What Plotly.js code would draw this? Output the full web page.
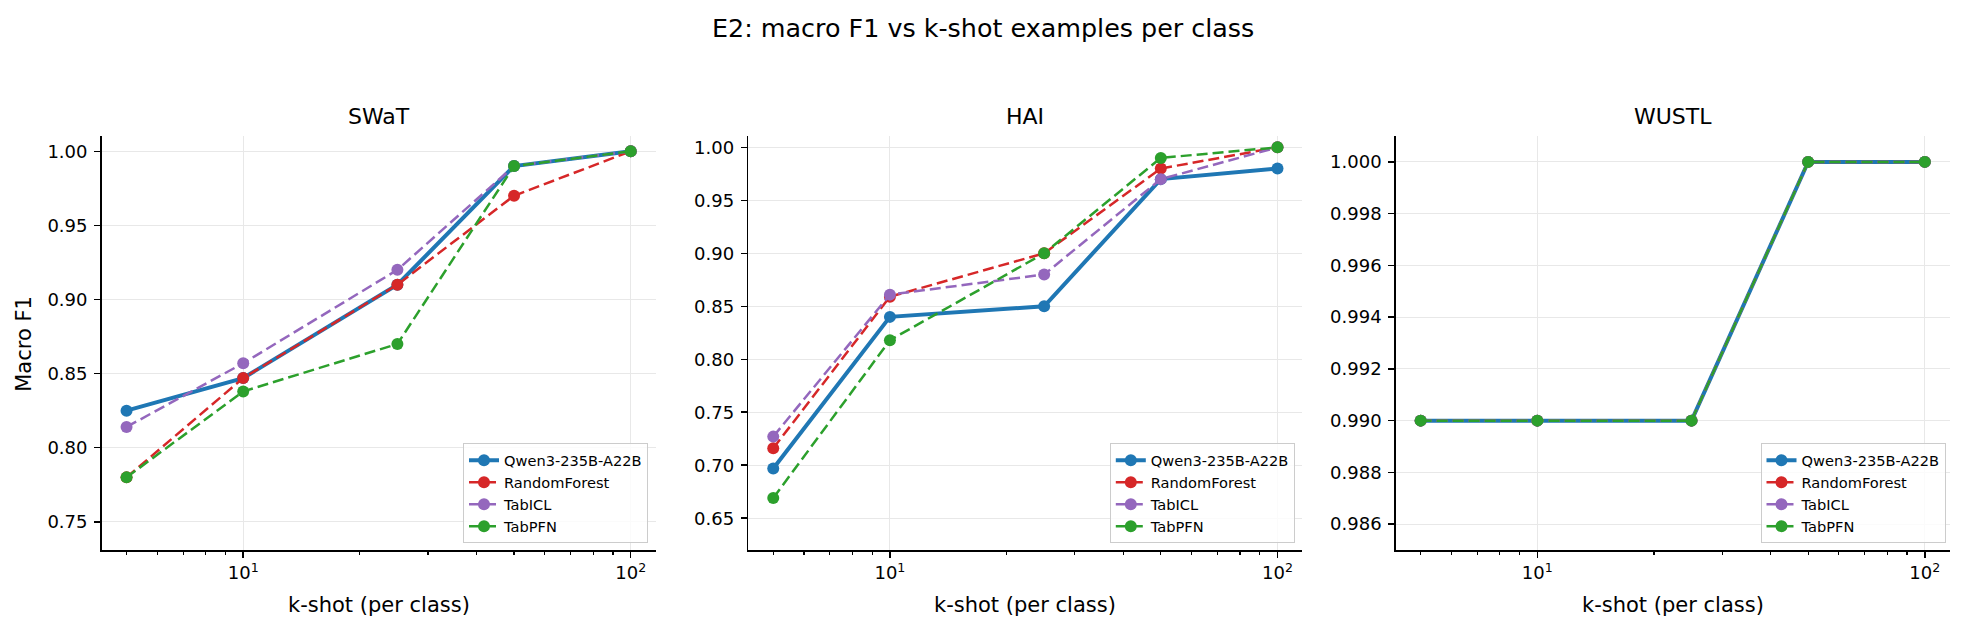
<!DOCTYPE html>
<html>
<head>
<meta charset="utf-8">
<script src="https://cdn.plot.ly/plotly-3.0.1.min.js"></script>
<style>html,body{margin:0;padding:0;background:#fff;}#chart{width:1966px;height:630px;}</style>
</head>
<body>
<div id="chart"></div>
<script>
// ---- data ----
const kshot = [5, 10, 25, 50, 100];
const seriesNames = ["Qwen3-235B-A22B", "RandomForest", "TabICL", "TabPFN"];
const datasets = ["SWaT", "HAI", "WUSTL"];

const swatQwen = [0.825, 0.847, 0.910, 0.990, 1.000];
const swatRF   = [0.780, 0.847, 0.910, 0.970, 1.000];
const swatICL  = [0.814, 0.857, 0.920, 0.990, 1.000];
const swatPFN  = [0.780, 0.838, 0.870, 0.990, 1.000];

const haiQwen = [0.697, 0.840, 0.850, 0.970, 0.980];
const haiRF   = [0.716, 0.859, 0.900, 0.980, 1.000];
const haiICL  = [0.727, 0.861, 0.880, 0.970, 1.000];
const haiPFN  = [0.669, 0.818, 0.900, 0.990, 1.000];

const wustlQwen = [0.990, 0.990, 0.990, 1.000, 1.000];
const wustlRF   = [0.990, 0.990, 0.990, 1.000, 1.000];
const wustlICL  = [0.990, 0.990, 0.990, 1.000, 1.000];
const wustlPFN  = [0.990, 0.990, 0.990, 1.000, 1.000];

const xTickVals = [10, 100];
const xTickText = ["10<sup>1</sup>", "10<sup>2</sup>"];
const xMinorVals = [5, 6, 7, 8, 9, 20, 30, 40, 50, 60, 70, 80, 90];

const yRanges = [[0.731, 1.0103], [0.620, 1.0107], [0.985, 1.001]];
const yDticks = [0.05, 0.05, 0.002];
const yFormats = [".2f", ".2f", ".3f"];

// ---- styles ----
const colors = ["#1f77b4", "#d62728", "#9467bd", "#2ca02c"];
const widths = [4, 2.5, 2.5, 2.5];
const dashes = ["solid", "11px,5px", "11px,5px", "11px,5px"];
const FONT = "DejaVu Sans";

const allData = [
  [swatQwen, swatRF, swatICL, swatPFN],
  [haiQwen, haiRF, haiICL, haiPFN],
  [wustlQwen, wustlRF, wustlICL, wustlPFN]
];

const traces = [];
allData.forEach((group, d) => {
  group.forEach((vals, s) => {
    traces.push({
      x: kshot, y: vals,
      type: "scatter", mode: "lines+markers",
      name: seriesNames[s],
      xaxis: d === 0 ? "x" : "x" + (d + 1),
      yaxis: d === 0 ? "y" : "y" + (d + 1),
      legend: d === 0 ? "legend" : "legend" + (d + 1),
      line: {color: colors[s], width: widths[s], dash: dashes[s]},
      marker: {color: colors[s], size: 12, symbol: "circle"},
      hoverinfo: "x+y+name"
    });
  });
});

const xDomains = [[0.05168, 0.33352], [0.38062, 0.66251], [0.70992, 0.99176]];
const yDomain = [0.12698, 0.78413];

const layout = {
  width: 1966, height: 630,
  margin: {l: 0, r: 0, t: 0, b: 0},
  paper_bgcolor: "#ffffff", plot_bgcolor: "#ffffff",
  font: {family: FONT, color: "#000000", size: 18},
  annotations: [],
  showlegend: true
};

const legendX = [648 / 1966, 1294.8 / 1966, 1945.5 / 1966];

for (let d = 0; d < 3; d++) {
  const xs = d === 0 ? "xaxis" : "xaxis" + (d + 1);
  const ys = d === 0 ? "yaxis" : "yaxis" + (d + 1);
  const ls = d === 0 ? "legend" : "legend" + (d + 1);
  layout[xs] = {
    type: "log", domain: xDomains[d], range: [0.6346, 2.0645],
    anchor: d === 0 ? "y" : "y" + (d + 1),
    tickmode: "array", tickvals: xTickVals, ticktext: xTickText,
    ticks: "outside", ticklen: 6, tickwidth: 1.5, tickcolor: "#000",
    showline: true, linecolor: "#000", linewidth: 1.5,
    showgrid: true, gridcolor: "#e8e8e8", gridwidth: 1,
    zeroline: false,
    tickfont: {family: FONT, size: 18, color: "#000"},
    minor: {tickmode: "array", tickvals: xMinorVals, ticks: "outside", ticklen: 3.5, tickwidth: 1.2, tickcolor: "#000", showgrid: false},
    fixedrange: true
  };
  layout[ys] = {
    domain: yDomain, range: yRanges[d],
    anchor: d === 0 ? "x" : "x" + (d + 1),
    tick0: 0, dtick: yDticks[d], tickformat: yFormats[d],
    ticks: "outside", ticklen: 6, tickwidth: 1.5, tickcolor: "#000",
    showline: true, linecolor: "#000", linewidth: 1.5,
    showgrid: true, gridcolor: "#e8e8e8", gridwidth: 1,
    zeroline: false,
    tickfont: {family: FONT, size: 18, color: "#000"},
    ticklabelstandoff: 3,
    fixedrange: true
  };
  layout[ls] = {
    x: legendX[d], y: 1 - 543.3 / 630, xanchor: "right", yanchor: "bottom",
    bgcolor: "rgba(255,255,255,0.8)", bordercolor: "#cccccc", borderwidth: 1,
    font: {family: FONT, size: 14.6, color: "#000", weight: "normal", stretch: "normal"},
    tracegroupgap: 0
  };
  const cx = (xDomains[d][0] + xDomains[d][1]) / 2;
  layout.annotations.push({
    text: datasets[d], xref: "paper", yref: "paper", x: cx, y: 1 - 116 / 630,
    xanchor: "center", yanchor: "middle", showarrow: false,
    font: {family: FONT, size: 22, color: "#000"}
  });
  layout.annotations.push({
    text: "k-shot (per class)", xref: "paper", yref: "paper", x: cx, y: 1 - 605 / 630,
    xanchor: "center", yanchor: "middle", showarrow: false,
    font: {family: FONT, size: 21, color: "#000"}
  });
}

layout.annotations.push({
  text: "Macro F1", xref: "paper", yref: "paper", x: 23.8 / 1966, y: 1 - 344 / 630,
  xanchor: "center", yanchor: "middle", showarrow: false, textangle: -90,
  font: {family: FONT, size: 21, color: "#000"}
});
layout.annotations.push({
  text: "E2: macro F1 vs k-shot examples per class", xref: "paper", yref: "paper",
  x: 0.5, y: 1 - 28 / 630, xanchor: "center", yanchor: "middle", showarrow: false,
  font: {family: FONT, size: 25.4, color: "#000"}
});

Plotly.newPlot("chart", traces, layout, {displayModeBar: false, staticPlot: true});
</script>
</body>
</html>
